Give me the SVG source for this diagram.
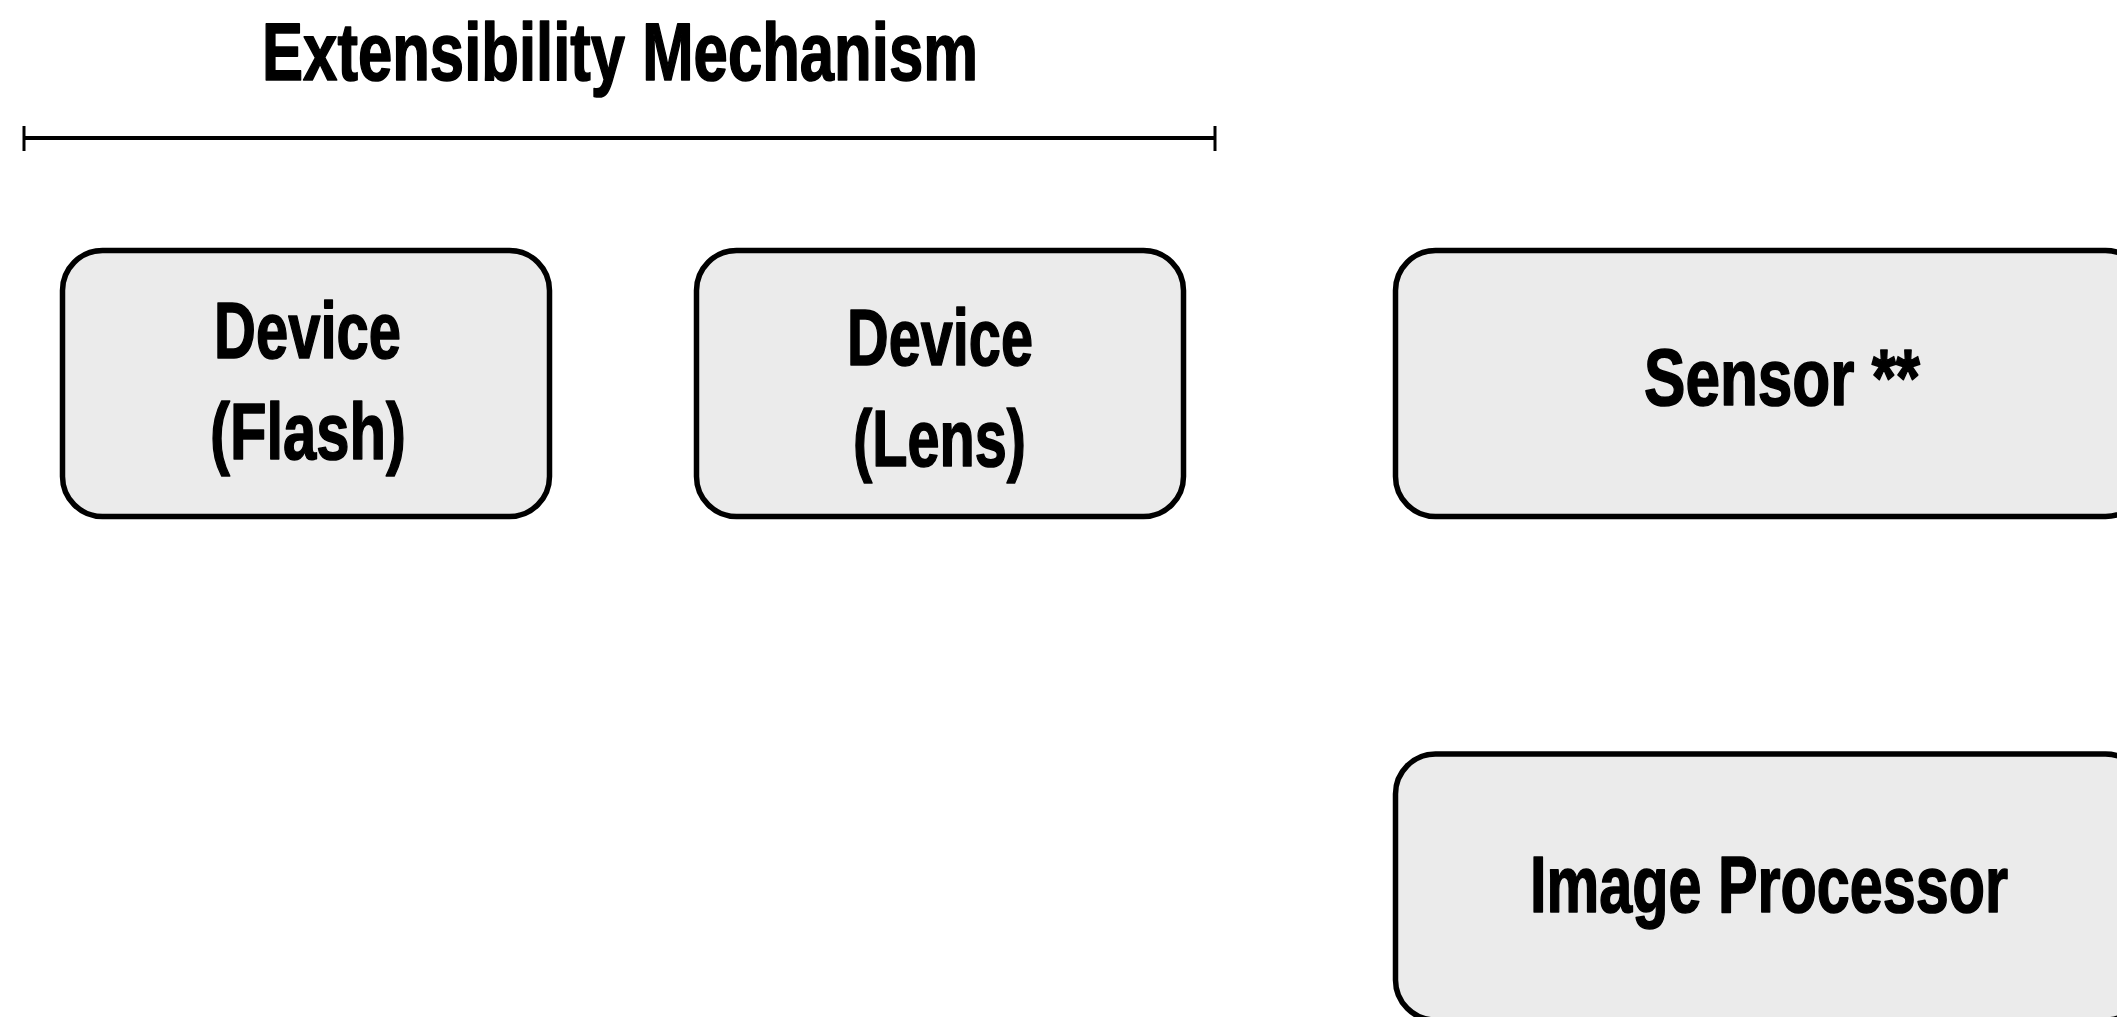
<svg xmlns="http://www.w3.org/2000/svg" width="2117" height="1017" viewBox="0 0 2117 1017">
  <style>
    .box { fill: #ebebeb; stroke: #000; stroke-width: 5.5; }
    .lbl { font-family: "Liberation Sans", Arial, sans-serif; font-weight: bold; font-size: 80px; fill: #000; stroke: #000; stroke-width: 1.6; stroke-linejoin: round; }
    .title { font-family: "Liberation Sans", Arial, sans-serif; font-weight: bold; font-size: 81px; fill: #000; stroke: #000; stroke-width: 1.6; stroke-linejoin: round; }
    .rule { stroke: #000; stroke-width: 4; fill: none; }
    .tick { stroke: #000; stroke-width: 3; fill: none; }
  </style>
  <rect width="2117" height="1017" fill="#fff"/>

  <!-- heading and its span bracket -->
  <g id="extensibility-title">
    <text class="title" x="262" y="80" textLength="716" lengthAdjust="spacingAndGlyphs">Extensibility Mechanism</text>
  </g>
  <g id="connectors">
    <line class="rule" x1="24" y1="138" x2="1215" y2="138"/>
    <line class="tick" x1="24" y1="126" x2="24" y2="151"/>
    <line class="tick" x1="1215" y1="126" x2="1215" y2="151"/>
  </g>

  <g id="device-flash">
    <rect class="box" x="62.5" y="250.5" width="487" height="266" rx="40" ry="40"/>
    <text class="lbl" x="214" y="358" textLength="187" lengthAdjust="spacingAndGlyphs">Device</text>
    <text class="lbl" x="210" y="459" textLength="196" lengthAdjust="spacingAndGlyphs">(Flash)</text>
  </g>

  <g id="device-lens">
    <rect class="box" x="696.5" y="250.5" width="487" height="266" rx="40" ry="40"/>
    <text class="lbl" x="847" y="365" textLength="186" lengthAdjust="spacingAndGlyphs">Device</text>
    <text class="lbl" x="853" y="466" textLength="173" lengthAdjust="spacingAndGlyphs">(Lens)</text>
  </g>

  <g id="sensor">
    <rect class="box" x="1395.5" y="250.5" width="750" height="266" rx="40" ry="40"/>
    <text class="lbl" x="1644" y="405" textLength="276" lengthAdjust="spacingAndGlyphs">Sensor **</text>
  </g>

  <g id="image-processor">
    <rect class="box" x="1395.5" y="754" width="750" height="266" rx="40" ry="40"/>
    <text class="lbl" x="1530" y="912" textLength="478" lengthAdjust="spacingAndGlyphs">Image Processor</text>
  </g>
</svg>
